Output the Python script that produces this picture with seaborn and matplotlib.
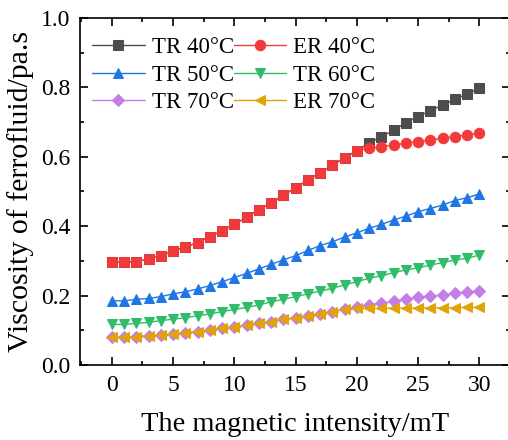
import matplotlib
matplotlib.use("Agg")
import matplotlib.pyplot as plt
import pandas as pd
import seaborn as sns
from matplotlib.ticker import MultipleLocator

# magnetic intensity (mT)
field = list(range(31))

tr40 = [0.296, 0.296, 0.298, 0.305, 0.315, 0.328, 0.340, 0.353, 0.370, 0.387, 0.405,
        0.426, 0.447, 0.468, 0.489, 0.511, 0.533, 0.554, 0.576, 0.597, 0.618,
        0.639, 0.658, 0.676, 0.698, 0.716, 0.733, 0.749, 0.766, 0.781, 0.797]
er40 = [0.296, 0.296, 0.298, 0.305, 0.315, 0.328, 0.340, 0.353, 0.370, 0.387, 0.405,
        0.426, 0.447, 0.468, 0.489, 0.511, 0.533, 0.554, 0.576, 0.597, 0.618,
        0.624, 0.629, 0.634, 0.639, 0.644, 0.648, 0.653, 0.658, 0.663, 0.668]
tr50 = [0.185, 0.185, 0.189, 0.192, 0.197, 0.205, 0.211, 0.219, 0.229, 0.240, 0.252,
        0.264, 0.277, 0.290, 0.303, 0.315, 0.330, 0.344, 0.355, 0.369, 0.381,
        0.394, 0.405, 0.418, 0.429, 0.442, 0.451, 0.461, 0.474, 0.482, 0.493]
tr60 = [0.117, 0.117, 0.120, 0.123, 0.128, 0.132, 0.136, 0.142, 0.147, 0.154, 0.160,
        0.166, 0.173, 0.182, 0.189, 0.197, 0.205, 0.213, 0.221, 0.231, 0.240,
        0.250, 0.257, 0.266, 0.274, 0.280, 0.288, 0.295, 0.303, 0.307, 0.317]
tr70 = [0.080, 0.080, 0.082, 0.084, 0.086, 0.089, 0.093, 0.096, 0.101, 0.106, 0.110,
        0.115, 0.120, 0.125, 0.132, 0.136, 0.141, 0.147, 0.154, 0.160, 0.166,
        0.173, 0.178, 0.184, 0.190, 0.195, 0.199, 0.202, 0.207, 0.211, 0.214]
er70 = [0.080, 0.080, 0.082, 0.084, 0.086, 0.089, 0.093, 0.096, 0.101, 0.106, 0.110,
        0.115, 0.120, 0.125, 0.132, 0.136, 0.141, 0.147, 0.154, 0.160, 0.163,
        0.163, 0.163, 0.164, 0.164, 0.164, 0.165, 0.165, 0.165, 0.166, 0.166]

labels = ["TR 40°C", "ER 40°C", "TR 50°C", "TR 60°C", "TR 70°C", "ER 70°C"]
colors = ["#4d4d4d", "#f33a3a", "#1f77e6", "#2fbd6a", "#c47ee8", "#e0a408"]
markers = ["s", "o", "^", "v", "D", "<"]

df = pd.DataFrame({"field": field, labels[0]: tr40, labels[1]: er40, labels[2]: tr50,
                   labels[3]: tr60, labels[4]: tr70, labels[5]: er70})

sns.set_style("ticks")
plt.rcParams["font.family"] = ["Liberation Serif", "DejaVu Serif"]
plt.rcParams["text.color"] = "black"
plt.rcParams["axes.labelcolor"] = "black"

fig = plt.figure(figsize=(5.08, 4.40), dpi=100)
ax = fig.add_axes([80 / 508, 75 / 440, 430 / 508, 347 / 440])

sizes = [6.5, 7.5, 7.5, 7.5, 6.5, 7.5]
for i, lab in enumerate(labels):
    kw = {}
    if lab == "ER 40°C":
        kw["markevery"] = list(range(21, 31))
    sns.lineplot(data=df, x="field", y=lab, ax=ax, color=colors[i], marker=markers[i],
                 markersize=sizes[i], markeredgecolor=colors[i], linewidth=1.0,
                 label=lab, **kw)
    if lab == "ER 40°C":
        # ER and TR coincide below 20 mT, shown as red squares
        sns.scatterplot(x=df["field"][:21], y=df[lab][:21], ax=ax, marker="s",
                        color=colors[i], edgecolor=colors[i], s=42, zorder=3)

ax.set_xlim(-2.6, 32.5)
ax.set_ylim(0.0, 1.0)
ax.xaxis.set_major_locator(MultipleLocator(5))
ax.xaxis.set_minor_locator(MultipleLocator(2.5))
ax.yaxis.set_major_locator(MultipleLocator(0.2))
ax.yaxis.set_minor_locator(MultipleLocator(0.1))
ax.tick_params(which="both", direction="in", top=True, right=True, width=1.2,
               labelsize=17, colors="black")
ax.tick_params(which="major", length=6, pad=7)
ax.tick_params(which="minor", length=3)
ax.set_xticks(range(0, 31, 5))
ax.set_yticklabels([f"{v:.1f}" for v in ax.get_yticks()])
ax.spines["right"].set_visible(False)
for s in ["left", "bottom", "top"]:
    ax.spines[s].set_linewidth(1.2)
    ax.spines[s].set_color("black")

ax.set_xlabel("The magnetic intensity/mT", fontsize=20.5, labelpad=12)
ax.set_ylabel("Viscosity of ferrofluid/pa.s", fontsize=21.5, labelpad=5)

h, l = ax.get_legend_handles_labels()
order = [0, 2, 4, 1, 3, 5]
ax.legend([h[k] for k in order], [l[k] for k in order], ncol=2, loc="upper left",
          bbox_to_anchor=(0.028, 0.945), frameon=False, fontsize=16.5, handlelength=2.3,
          handletextpad=0.3, columnspacing=0.0, labelspacing=0.28, borderaxespad=0.0,
          borderpad=0.0)

fig.savefig("out.png", dpi=100)
